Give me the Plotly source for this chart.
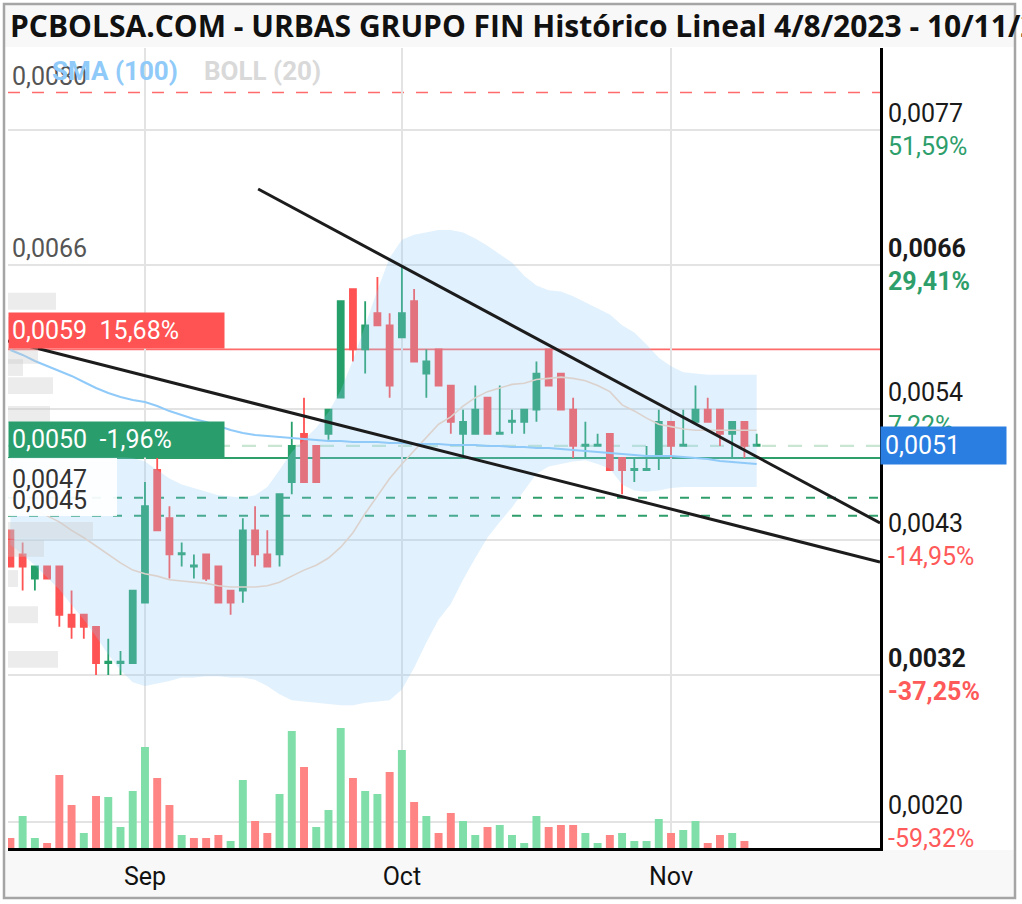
import plotly.graph_objects as go

# ---------------- data ----------------
dates = [
    "2023-08-17", "2023-08-18", "2023-08-21", "2023-08-22", "2023-08-23", "2023-08-24", "2023-08-25",
    "2023-08-28", "2023-08-29", "2023-08-30", "2023-08-31",
    "2023-09-01", "2023-09-04", "2023-09-05", "2023-09-06", "2023-09-07", "2023-09-08", "2023-09-11",
    "2023-09-12", "2023-09-13", "2023-09-14", "2023-09-15", "2023-09-18", "2023-09-19", "2023-09-20",
    "2023-09-21", "2023-09-22", "2023-09-25", "2023-09-26", "2023-09-27", "2023-09-28", "2023-09-29",
    "2023-10-02", "2023-10-03", "2023-10-04", "2023-10-05", "2023-10-06", "2023-10-09", "2023-10-10",
    "2023-10-11", "2023-10-12", "2023-10-13", "2023-10-16", "2023-10-17", "2023-10-18", "2023-10-19",
    "2023-10-20", "2023-10-23", "2023-10-24", "2023-10-25", "2023-10-26", "2023-10-27", "2023-10-30",
    "2023-10-31",
    "2023-11-01", "2023-11-02", "2023-11-03", "2023-11-06", "2023-11-07", "2023-11-08", "2023-11-09",
    "2023-11-10",
]
open_ = [
    .0044, .0042, .0040, .0041, .0041, .0037, .0037, .0036, .0033, .0033, .0033,
    .0038, .0049, .0045, .0042, .0041, .0042, .0041, .0039, .0039, .0044, .0042, .0042, .0048, .0052,
    .0051, .0052, .0055, .0064, .0059, .0062, .0061,
    .0060, .0063, .0057, .0059, .0056, .0052, .0052, .0055, .0052, .0053, .0053, .0054, .0059, .0057,
    .0054, .0051, .0051, .0052, .0050, .0049, .0049, .0050,
    .0053, .0051, .0053, .0054, .0054, .0052, .0053, .0051,
]
high = [
    .0044, .0043, .0041, .0041, .0041, .0039, .0037, .0036, .0035, .0034, .0039,
    .0048, .0050, .0046, .0043, .0042, .0042, .0041, .0039, .0045, .0046, .0044, .0047, .0053, .0055,
    .0051, .0054, .0063, .0064, .0063, .0065, .0062,
    .0066, .0064, .0059, .0059, .0056, .0054, .0056, .0055, .0056, .0054, .0054, .0058, .0059, .0057,
    .0055, .0053, .0052, .0052, .0050, .0050, .0051, .0054,
    .0053, .0054, .0056, .0055, .0054, .0053, .0053, .0052,
]
low = [
    .0041, .0039, .0039, .0040, .0036, .0035, .0035, .0032, .0032, .0032, .0033,
    .0038, .0044, .0040, .0041, .0040, .00398, .0038, .0037, .0038, .0041, .0041, .0041, .0047, .0048,
    .0048, .00515, .0055, .0058, .0057, .0061, .0055,
    .0060, .0058, .0055, .0056, .0052, .0050, .0052, .0052, .0052, .0052, .0052, .0053, .0056, .0054,
    .0050, .0050, .0051, .0049, .0047, .0048, .0049, .0049,
    .0050, .0051, .0053, .0053, .0051, .0050, .0050, .0051,
]
close = [
    .0041, .0041, .0041, .0040, .0037, .0036, .0036, .0033, .00331, .00331, .0039,
    .0046, .0044, .0042, .00421, .00411, .0040, .0038, .0038, .0044, .0042, .0041, .0047, .0051, .0048,
    .0048, .0054, .0063, .0059, .0061, .0061, .0056,
    .0062, .0058, .0058, .0056, .0053, .0053, .0054, .0052, .00521, .00531, .0054, .0057, .0056, .0054,
    .0051, .00511, .00511, .0049, .0049, .00491, .00491, .0053,
    .0051, .00511, .0054, .0053, .0052, .0053, .0051, .00511,
]
close_before = 0.0043  # close of the session before the first visible candle

volume = [
    10, 32, 10, 5, 73, 43, 15, 52, 51, 21, 57,
    101, 70, 43, 13, 10, 10, 13, 7, 68, 27, 15, 54, 117, 81, 21, 38, 120, 70, 57, 54, 76,
    98, 46, 32, 15, 35, 27, 13, 21, 23, 13, 5, 32, 21, 23, 23, 15, 5, 13, 15, 7, 7, 29,
    15, 18, 27, 5, 13, 15, 7, 0,
]

boll_upper = [
    .00502, .00502, .00502, .00502, .00502, .00502, .00502, .00502, .00502, .00501, .00500,
    .00497, .00490, .00483, .00478, .00475, .00472, .00469, .00468, .00467, .00469, .00476, .00490,
    .00505, .00515, .00525, .00538, .00556, .00581, .00610, .00639, .00666,
    .00681, .00685, .00687, .00689, .00689, .00687, .00682, .00676, .00669, .00662, .00651, .00643,
    .00639, .00638, .00634, .00629, .00624, .00619, .00610, .00604, .00594, .00583,
    .00576, .00571, .00570, .00569, .00569, .00569, .00569, .00569,
]
boll_lower = [
    .00428, .00420, .00411, .00401, .00391, .00378, .00366, .00352, .00337, .00324, .00314,
    .00311, .00313, .00315, .00318, .00318, .00319, .00319, .00318, .00318, .00316, .00311, .00304,
    .00299, .00298, .00297, .00296, .00295, .00295, .00297, .00298, .00299,
    .00308, .00326, .00347, .00366, .00379, .00399, .00417, .00434, .00447, .00459, .00473, .00487,
    .00493, .00495, .00497, .00498, .00495, .00491, .00478, .00473, .00472, .00473,
    .00475, .00476, .00476, .00476, .00476, .00476, .00476, .00476,
]
boll_mid = [
    .00465, .00461, .00457, .00452, .00447, .00440, .00434, .00427, .00420, .00413, .00407,
    .00404, .00402, .00399, .00398, .00397, .00396, .00394, .00393, .00393, .00393, .00394, .00397,
    .00402, .00407, .00411, .00417, .00426, .00438, .00454, .00469, .00483,
    .00495, .00506, .00517, .00528, .00534, .00543, .00550, .00555, .00558, .00561, .00562, .00565,
    .00566, .00567, .00566, .00564, .00560, .00555, .00544, .00539, .00533, .00528,
    .00526, .00524, .00523, .00523, .00523, .00523, .00523, .00523,
]
sma100 = [
    .005895, .005854, .005804, .005763, .005721, .00568, .00563, .00558, .005539, .005505, .005481,
    .005464, .005431, .005389, .005356, .005323, .005298, .005265, .005232, .005207, .00519, .005182,
    .005174, .005165, .005157, .005149, .005141, .005141, .005132, .005132, .005132, .005124,
    .005124, .005116, .005116, .005116, .005107, .005107, .005107, .005099, .005099, .005091, .005091,
    .005083, .005083, .005074, .005066, .005058, .005049, .005041, .005033, .005024, .005016, .005016,
    .005016, .005008, .005, .004991, .004975, .004967, .004958, .00495,
]

# volume-by-price profile (left side, faint)
vp_price = [0.0063, 0.0061, 0.00585, 0.00575, 0.0056, 0.00536, 0.0044, 0.00425, 0.0040, 0.0037, 0.00333]
vp_size = [48, 45, 30, 15, 45, 42, 85, 36, 10, 30, 50]

# trend lines (drawn objects): [date, price] endpoints
trend_upper = (["2023-09-14 06:00", "2023-11-24 02:00"], [0.00723, 0.004461])
trend_lower = (["2023-08-16 19:20", "2023-11-24 02:00"], [0.00597, 0.004137])

# horizontal levels
lvl_red_dash = [0.00803, 0.0066]
lvl_red_solid = 0.0059
lvl_green_solid = 0.0050
lvl_green_dash = [0.00467, 0.00452]
last_price = 0.0051

# right scale labels
grid_vals = [0.00772, 0.0066, 0.00541, 0.00432, 0.0032, 0.00198]
grid_text = ["0,0077", "0,0066", "0,0054", "0,0043", "0,0032", "0,0020"]
grid_pct = ["51,59%", "29,41%", "7,22%", "-14,95%", "-37,25%", "-59,32%"]
grid_bold = [False, True, False, False, True, False]

month_ticks = ["2023-09-01", "2023-10-02", "2023-11-01"]
month_text = ["Sep", "Oct", "Nov"]

title_text = "PCBOLSA.COM - URBAS GRUPO FIN Histórico Lineal 4/8/2023 - 10/11/2023"

# ---------------- style ----------------
GREEN = "#26a06a"
RED = "#ff5252"
VGREEN = "#80dfa9"
VRED = "#ff8585"
PCT_GREEN = "#2e9e6b"
PCT_RED = "#ff5a5a"

W, H = 1022, 904
L, R, T, B = 8, 142, 48, 56
PW, PH = W - L - R, H - T - B

def px_x(px):
    return (px - L) / PW

def px_y(py):
    return (H - B - py) / PH

Y_RANGE = [0.0017658, 0.0083994]
X_RANGE = ["2023-08-16 19:17", "2023-11-24 02:00"]

fig = go.Figure()

# volume profile
fig.add_trace(go.Bar(x=vp_size, y=vp_price, orientation="h", xaxis="x2", yaxis="y",
                     width=0.00014, marker=dict(color="rgba(200,200,200,0.35)", line=dict(width=0)),
                     hoverinfo="skip"))

# Bollinger band
fig.add_trace(go.Scatter(x=dates, y=boll_upper, mode="lines", line=dict(width=0),
                         hoverinfo="skip"))
fig.add_trace(go.Scatter(x=dates, y=boll_lower, mode="lines", line=dict(width=0),
                         fill="tonexty", fillcolor="rgba(144,202,249,0.27)", hoverinfo="skip"))
fig.add_trace(go.Scatter(x=dates, y=boll_mid, mode="lines", line=dict(color="#dcd2cd", width=1.6),
                         hoverinfo="skip"))
fig.add_trace(go.Scatter(x=dates, y=sma100, mode="lines", line=dict(color="#90caf9", width=2),
                         hoverinfo="skip"))

# volume bars (colour from close vs previous close)
prev = [close_before] + close[:-1]
vcol = [VGREEN if c >= p else VRED for c, p in zip(close, prev)]
fig.add_trace(go.Bar(x=dates, y=volume, yaxis="y2", marker=dict(color=vcol, line=dict(width=0)),
                     hoverinfo="skip"))

# candles
fig.add_trace(go.Candlestick(
    x=dates, open=open_, high=high, low=low, close=close,
    increasing=dict(line=dict(color=GREEN, width=1.8), fillcolor=GREEN),
    decreasing=dict(line=dict(color=RED, width=1.8), fillcolor=RED),
    whiskerwidth=0, hoverinfo="skip"))

# trend lines
for tx, ty in (trend_upper, trend_lower):
    fig.add_trace(go.Scatter(x=tx, y=ty, mode="lines", line=dict(color="#1c1c1c", width=3),
                             hoverinfo="skip"))

shapes = []
# title bar / bottom band / frame
shapes.append(dict(type="rect", xref="paper", yref="paper", x0=px_x(4), x1=px_x(1016),
                   y0=px_y(47), y1=px_y(4), fillcolor="#f8f8f8", line=dict(width=0), layer="below"))
shapes.append(dict(type="rect", xref="paper", yref="paper", x0=px_x(4), x1=px_x(1016),
                   y0=px_y(898), y1=px_y(850), fillcolor="#f8f8f8", line=dict(width=0), layer="below"))
shapes.append(dict(type="rect", xref="paper", yref="paper", x0=px_x(4), x1=px_x(1015),
                   y0=px_y(898), y1=px_y(4), fillcolor="rgba(0,0,0,0)",
                   line=dict(color="#a5a5a5", width=2.5), layer="above"))
# level lines
for v in lvl_red_dash:
    shapes.append(dict(type="line", xref="paper", yref="y", x0=0, x1=1, y0=v, y1=v,
                       line=dict(color="#ff6b6b", width=1.6, dash="12px,12px"), layer="between"))
shapes.append(dict(type="line", xref="paper", yref="y", x0=0, x1=1, y0=lvl_red_solid, y1=lvl_red_solid,
                   line=dict(color="#ff6b6b", width=1.8), layer="between"))
shapes.append(dict(type="line", xref="paper", yref="y", x0=0, x1=1, y0=last_price, y1=last_price,
                   line=dict(color="#c9e6d3", width=2.2, dash="14px,12px"), layer="between"))
shapes.append(dict(type="line", xref="paper", yref="y", x0=0, x1=1, y0=lvl_green_solid, y1=lvl_green_solid,
                   line=dict(color=PCT_GREEN, width=2), layer="between"))
for v in lvl_green_dash:
    shapes.append(dict(type="line", xref="paper", yref="y", x0=0, x1=1, y0=v, y1=v,
                       line=dict(color=PCT_GREEN, width=2, dash="9px,12px"), layer="between"))
# white backing box behind the 0,0047 / 0,0045 labels
shapes.append(dict(type="rect", xref="paper", yref="paper", x0=0, x1=px_x(117),
                   y0=px_y(516), y1=px_y(458), fillcolor="rgba(255,255,255,0.92)",
                   line=dict(width=0), layer="above"))

ann = []
FONT = "Roboto"
ann.append(dict(xref="paper", yref="paper", x=0, y=px_y(26), xanchor="left", yanchor="middle",
                text="<b>" + title_text + "</b>", showarrow=False,
                font=dict(family="Open Sans", size=30, color="#111111")))
# left level labels
ann.append(dict(xref="paper", yref="y", x=0, y=lvl_red_dash[0], xanchor="left", yanchor="bottom",
                xshift=2, text="0,0080", showarrow=False, font=dict(family=FONT, size=25, color="#555555")))
ann.append(dict(xref="paper", yref="paper", x=px_x(50), y=px_y(71), xanchor="left", yanchor="middle",
                text="<b>SMA (100)</b>", showarrow=False, font=dict(family=FONT, size=26, color="#90caf9")))
ann.append(dict(xref="paper", yref="paper", x=px_x(202), y=px_y(71), xanchor="left", yanchor="middle",
                text="<b>BOLL (20)</b>", showarrow=False, font=dict(family=FONT, size=26, color="#d9d9d9")))
ann.append(dict(xref="paper", yref="y", x=0, y=lvl_red_dash[1], xanchor="left", yanchor="bottom",
                xshift=2, text="0,0066", showarrow=False, font=dict(family=FONT, size=25, color="#555555")))
ann.append(dict(xref="paper", yref="y", x=0, y=lvl_green_dash[0], xanchor="left", yanchor="bottom",
                xshift=2, yshift=2, text="0,0047", showarrow=False,
                font=dict(family=FONT, size=25, color="#333333")))
ann.append(dict(xref="paper", yref="y", x=0, y=lvl_green_dash[1], xanchor="left", yanchor="bottom",
                xshift=2, yshift=-1, text="0,0045", showarrow=False,
                font=dict(family=FONT, size=25, color="#333333")))
ann.append(dict(xref="paper", yref="y", x=0, y=lvl_red_solid, xanchor="left", yanchor="bottom",
                text="0,0059\u00a0\u00a015,68%", showarrow=False, bgcolor=RED, width=209, align="left",
                borderpad=3, font=dict(family=FONT, size=25, color="white")))
ann.append(dict(xref="paper", yref="y", x=0, y=lvl_green_solid, xanchor="left", yanchor="bottom",
                text="0,0050\u00a0\u00a0-1,96%", showarrow=False, bgcolor="#2a9d6c", width=209, align="left",
                borderpad=3, font=dict(family=FONT, size=25, color="white")))
# right scale labels
for v, t, p, b in zip(grid_vals, grid_text, grid_pct, grid_bold):
    col = PCT_GREEN if not p.startswith("-") else PCT_RED
    txt = t + "<br><span style='color:" + col + "'>" + p + "</span>"
    if b:
        txt = "<b>" + txt + "</b>"
    ann.append(dict(xref="paper", yref="y", x=1, y=v, xanchor="left", yanchor="middle", xshift=6,
                    text=txt, align="left", showarrow=False,
                    font=dict(family=FONT, size=25, color="#1a1a1a")))
ann.append(dict(xref="paper", yref="y", x=1, y=last_price, xanchor="left", yanchor="middle",
                text="0,0051", showarrow=False, bgcolor="#2a7de1", width=117, align="left",
                borderpad=4, font=dict(family=FONT, size=25, color="white")))

fig.update_layout(
    width=W, height=H,
    margin=dict(l=L, r=R, t=T, b=B, autoexpand=False),
    paper_bgcolor="white", plot_bgcolor="white",
    showlegend=False, bargap=0.35,
    font=dict(family=FONT, size=25, color="#111111"),
    shapes=shapes, annotations=ann,
    xaxis=dict(type="date", range=X_RANGE, rangebreaks=[dict(bounds=["sat", "mon"])],
               tickvals=month_ticks, ticktext=month_text, showgrid=True, gridcolor="#e3e3e3",
               gridwidth=1.5, showline=True, linecolor="black", linewidth=3, ticks="outside",
               ticklen=4, tickcolor="rgba(0,0,0,0)", zeroline=False,
               rangeslider=dict(visible=False), tickfont=dict(family=FONT, size=25, color="#111111")),
    yaxis=dict(range=Y_RANGE, side="right", tickvals=grid_vals, showticklabels=False, showgrid=True,
               gridcolor="#e3e3e3", gridwidth=1.5, showline=True, linecolor="black", linewidth=2.5,
               zeroline=False, ticks=""),
    yaxis2=dict(overlaying="y", range=[0, PH], visible=False),
    xaxis2=dict(overlaying="x", range=[0, PW], visible=False),
)

fig.write_html("out.html", config={"displayModeBar": False},
               post_script="document.body.style.margin='0px';document.body.style.overflow='hidden';")
